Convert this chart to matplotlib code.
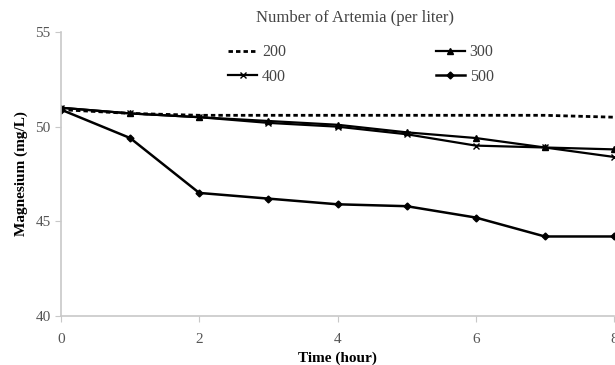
import matplotlib.pyplot as plt

plt.rcParams["font.family"] = ["Liberation Serif", "DejaVu Serif"]

time_h = [0, 1, 2, 3, 4, 5, 6, 7, 8]
mg_200 = [50.9, 50.7, 50.6, 50.6, 50.6, 50.6, 50.6, 50.6, 50.5]
mg_300 = [51.0, 50.7, 50.5, 50.3, 50.1, 49.7, 49.4, 48.9, 48.8]
mg_400 = [51.0, 50.7, 50.5, 50.2, 50.0, 49.6, 49.0, 48.9, 48.4]
mg_500 = [50.9, 49.4, 46.5, 46.2, 45.9, 45.8, 45.2, 44.2, 44.2]

fig = plt.figure(figsize=(6.15, 3.65), dpi=100)
ax = fig.add_axes([61 / 615, 1 - 316 / 365, 553 / 615, 284 / 365])

l200, = ax.plot(time_h, mg_200, color="black", linestyle=(0, (1.6, 1.1)), linewidth=2, label="200")
l300, = ax.plot(time_h, mg_300, color="black", linewidth=1.6, marker="^", markersize=4, label="300")
l400, = ax.plot(time_h, mg_400, color="black", linewidth=1.6, marker="x", markersize=4, label="400")
l500, = ax.plot(time_h, mg_500, color="black", linewidth=1.8, marker="D", markersize=3.5, label="500")

ax.set_xlim(0, 8)
ax.set_ylim(40, 55)
ax.set_xticks([0, 2, 4, 6, 8])
ax.set_yticks([40, 45, 50, 55])
for s in ["top", "right"]:
    ax.spines[s].set_visible(False)
for s in ["left", "bottom"]:
    ax.spines[s].set_color("#c8c8c8")
    ax.spines[s].set_linewidth(1.2)
ax.tick_params(colors="#c8c8c8", labelcolor="#555555", labelsize=11, length=4)
ax.tick_params(axis="x", pad=8)

ax.set_xlabel("Time (hour)", fontweight="bold", fontsize=11, labelpad=4)
ax.set_ylabel("Magnesium (mg/L)", fontweight="bold", fontsize=11, labelpad=5)

# legend title placed separately so the gap above the entries matches
fig.text(355 / 615, 1 - 18 / 365, "Number of Artemia (per liter)", ha="center", va="center",
         fontsize=12, color="#444444")
# column-major order so rows read 200, 300 / 400, 500
leg = fig.legend([l200, l400, l300, l500], ["200", "400", "300", "500"], ncol=2, frameon=False,
                 loc="center", bbox_to_anchor=(361 / 615, 1 - 64.5 / 365),
                 fontsize=11.5, columnspacing=9.4, handlelength=1.8,
                 handletextpad=0.3, labelspacing=0.55, borderpad=0)
for t in leg.get_texts():
    t.set_color("#444444")

fig.savefig("out.png", dpi=100)
